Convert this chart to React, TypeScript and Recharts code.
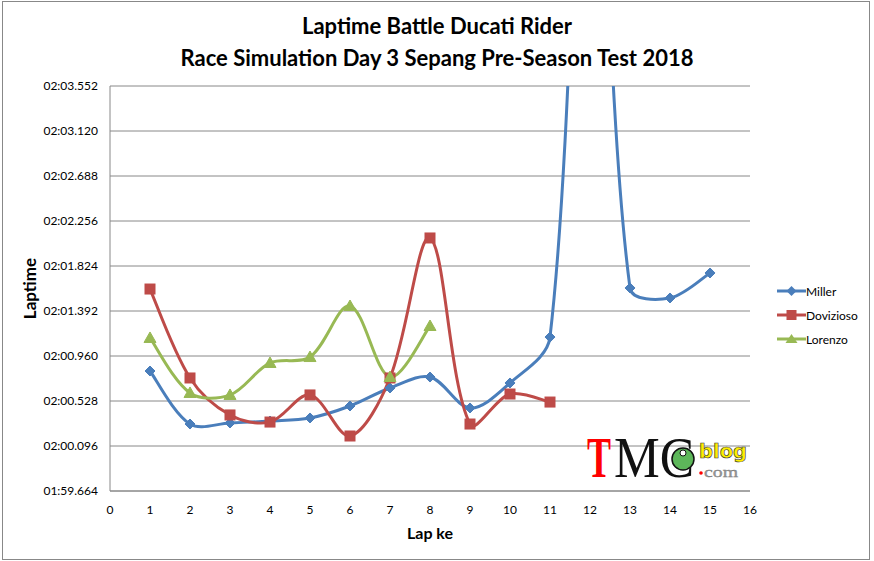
import React from "react";
import { LineChart, Line, XAxis, YAxis, CartesianGrid, Label } from "recharts";

const laps = [1, 2, 3, 4, 5, 6, 7, 8, 9, 10, 11, 12, 13, 14, 15];
const miller = [120.816, 120.307, 120.317, 120.336, 120.365, 120.48, 120.653, 120.758, 120.461, 120.701, 121.142, 127.3, 121.613, 121.517, 121.757];
const dovizioso = [121.603, 120.749, 120.394, 120.326, 120.586, 120.192, 120.749, 122.093, 120.307, 120.595, 120.518];
const lorenzo = [121.133, 120.605, 120.586, 120.893, 120.95, 121.44, 120.758, 121.248];
const xTicks = [0, 1, 2, 3, 4, 5, 6, 7, 8, 9, 10, 11, 12, 13, 14, 15, 16];
const yTicks = [119.664, 120.096, 120.528, 120.96, 121.392, 121.824, 122.256, 122.688, 123.12, 123.552];

const data = laps.map((lap, i) => ({
  lap,
  Miller: miller[i] ?? null,
  Dovizioso: dovizioso[i] ?? null,
  Lorenzo: lorenzo[i] ?? null,
}));

const BLUE = "#4A7EBB";
const RED = "#BE4B48";
const GREEN = "#98B954";
const FONT = "Lato, 'Open Sans', sans-serif";

function pad2(n: number) {
  return n < 10 ? "0" + n : "" + n;
}
function fmtTime(v: number) {
  const ms = Math.round(v * 1000);
  const m = Math.floor(ms / 60000);
  const rest = ms - m * 60000;
  const s = Math.floor(rest / 1000);
  const f = rest - s * 1000;
  return pad2(m) + ":" + pad2(s) + "." + String(f).padStart(3, "0");
}

// Excel-like smoothing: Bezier with tangents scaled by chord lengths
function excelCurve(context: any) {
  let pts: number[][] = [];
  const dist = (a: number[], b: number[]) => Math.hypot(b[0] - a[0], b[1] - a[1]) || 1e-9;
  return {
    areaStart() {},
    areaEnd() {},
    lineStart() {
      pts = [];
    },
    point(x: number, y: number) {
      pts.push([+x, +y]);
    },
    lineEnd() {
      const n = pts.length;
      if (!n) return;
      context.moveTo(pts[0][0], pts[0][1]);
      for (let i = 0; i < n - 1; i++) {
        const p0 = pts[Math.max(i - 1, 0)];
        const p1 = pts[i];
        const p2 = pts[i + 1];
        const p3 = pts[Math.min(i + 2, n - 1)];
        const d01 = dist(p0, p1);
        const d12 = dist(p1, p2);
        const d23 = dist(p2, p3);
        const f1 = i === 0 ? 1 / 6 : d12 / (d01 + d12) / 3;
        const f2 = i + 2 > n - 1 ? 1 / 6 : d12 / (d12 + d23) / 3;
        context.bezierCurveTo(
          p1[0] + (p2[0] - p0[0]) * f1,
          p1[1] + (p2[1] - p0[1]) * f1,
          p2[0] - (p3[0] - p1[0]) * f2,
          p2[1] - (p3[1] - p1[1]) * f2,
          p2[0],
          p2[1]
        );
      }
    },
  };
}

const Diamond = (props: any) => {
  const { cx, cy, index } = props;
  if (cx == null || cy == null || props.value == null) return <g key={"d" + index} />;
  const r = 5;
  return (
    <path key={"d" + index} d={`M${cx},${cy - r}L${cx + r},${cy}L${cx},${cy + r}L${cx - r},${cy}Z`} fill={BLUE} stroke={BLUE} strokeWidth={1} />
  );
};
const Square = (props: any) => {
  const { cx, cy, index } = props;
  if (cx == null || cy == null || props.value == null) return <g key={"s" + index} />;
  const r = 5;
  return <rect key={"s" + index} x={cx - r} y={cy - r} width={2 * r} height={2 * r} fill={RED} stroke={RED} strokeWidth={1} />;
};
const Triangle = (props: any) => {
  const { cx, cy, index } = props;
  if (cx == null || cy == null || props.value == null) return <g key={"t" + index} />;
  const r = 6;
  return (
    <path key={"t" + index} d={`M${cx},${cy - r}L${cx + r},${cy + r * 0.75}L${cx - r},${cy + r * 0.75}Z`} fill={GREEN} stroke={GREEN} strokeWidth={1} />
  );
};

const legendItems = [
  { name: "Miller", color: BLUE, shape: "diamond" },
  { name: "Dovizioso", color: RED, shape: "square" },
  { name: "Lorenzo", color: GREEN, shape: "triangle" },
];

const LegendBox = () => (
  <div style={{ position: "absolute", left: 777, top: 279, fontFamily: FONT, fontSize: 12, color: "#000" }}>
    {legendItems.map((it) => (
      <div key={it.name} style={{ display: "flex", alignItems: "center", height: 24 }}>
        <svg width={29} height={12} style={{ marginRight: 0 }}>
          <line x1={0} y1={6} x2={29} y2={6} stroke={it.color} strokeWidth={3} />
          {it.shape === "diamond" && <path d="M14.5,1L19.5,6L14.5,11L9.5,6Z" fill={it.color} />}
          {it.shape === "square" && <rect x={9.5} y={1} width={10} height={10} fill={it.color} />}
          {it.shape === "triangle" && <path d="M14.5,1L20.5,10L8.5,10Z" fill={it.color} />}
        </svg>
        <span>{it.name}</span>
      </div>
    ))}
  </div>
);

// Watermark logo, drawn in absolute page coordinates
const Logo = () => (
  <svg width={200} height={90} viewBox="570 410 200 90" style={{ position: "absolute", left: 570, top: 410, pointerEvents: "none" }}>
    <circle cx={683} cy={459} r={11} fill="#5DB75A" stroke="#111" strokeWidth={1.5} />
    <circle cx={683} cy={453} r={3} fill="#fff" stroke="#111" strokeWidth={1} />
    <circle cx={701} cy={473} r={1.8} fill="#FF0000" />
    <text fontFamily="'Liberation Serif', serif">
      <tspan x={587} y={477} fontSize={58} fontWeight="bold" fill="#FF0000" textLength={24} lengthAdjust="spacingAndGlyphs">T</tspan>
      <tspan x={614} y={477} fontSize={58} fill="#111" textLength={80} lengthAdjust="spacingAndGlyphs">MC</tspan>
      <tspan x={699} y={458} fontFamily="'DejaVu Sans', sans-serif" fontWeight="bold" fontSize={19} fill="#FFEE00" stroke="#333" strokeWidth={0.6} textLength={48} lengthAdjust="spacingAndGlyphs">blog</tspan>
      <tspan x={704} y={477} fontSize={14} fill="#999" stroke="#777" strokeWidth={0.3} textLength={34} lengthAdjust="spacingAndGlyphs">com</tspan>
    </text>
  </svg>
);

export default function App() {
  return (
    <div style={{ position: "absolute", left: 0, top: 0, width: 874, height: 561, background: "#fff" }}>
      <div style={{ position: "absolute", left: 2, top: 1, width: 868, height: 559, border: "1px solid #888", boxSizing: "border-box" }} />
      <div
        style={{
          position: "absolute",
          left: 0,
          top: 10,
          width: 874,
          textAlign: "center",
          fontFamily: FONT,
          fontWeight: "bold",
          fontSize: 22,
          lineHeight: "32px",
          color: "#000",
        }}
      >
        <div>Laptime Battle Ducati Rider</div>
        <div>Race Simulation Day 3 Sepang Pre-Season Test 2018</div>
      </div>
      <div style={{ position: "absolute", left: 0, top: 0 }}>
        <LineChart width={874} height={561} data={data} margin={{ top: 86, right: 124, bottom: 40, left: 30 }}>
          <CartesianGrid horizontal vertical={false} stroke="#888" strokeWidth={1} />
          <XAxis
            dataKey="lap"
            type="number"
            domain={[0, 16]}
            ticks={xTicks}
            interval={0}
            height={30}
            tickLine={false}
            axisLine={{ stroke: "#888" }}
            tick={{ fontFamily: FONT, fontSize: 12, fill: "#000" }}
            tickMargin={8}
          >
            <Label value="Lap ke" position="insideBottom" offset={-18} style={{ fontFamily: FONT, fontWeight: "bold", fontSize: 16, fill: "#000" }} />
          </XAxis>
          <YAxis
            type="number"
            domain={[119.664, 123.552]}
            ticks={yTicks}
            interval={0}
            allowDataOverflow
            width={80}
            tickLine={false}
            axisLine={{ stroke: "#888" }}
            tickFormatter={fmtTime}
            tick={{ fontFamily: FONT, fontSize: 12, fill: "#000" }}
            tickMargin={6}
          >
            <Label value="Laptime" angle={-90} position="insideLeft" offset={0} style={{ fontFamily: FONT, fontWeight: "bold", fontSize: 17, fill: "#000", textAnchor: "middle" }} />
          </YAxis>
          <Line dataKey="Miller" type={excelCurve as any} stroke={BLUE} strokeWidth={3} dot={<Diamond />} activeDot={false} isAnimationActive={false} />
          <Line dataKey="Dovizioso" type={excelCurve as any} stroke={RED} strokeWidth={3} dot={<Square />} activeDot={false} isAnimationActive={false} />
          <Line dataKey="Lorenzo" type={excelCurve as any} stroke={GREEN} strokeWidth={3} dot={<Triangle />} activeDot={false} isAnimationActive={false} />
        </LineChart>
      </div>
      <LegendBox />
      <Logo />
    </div>
  );
}
